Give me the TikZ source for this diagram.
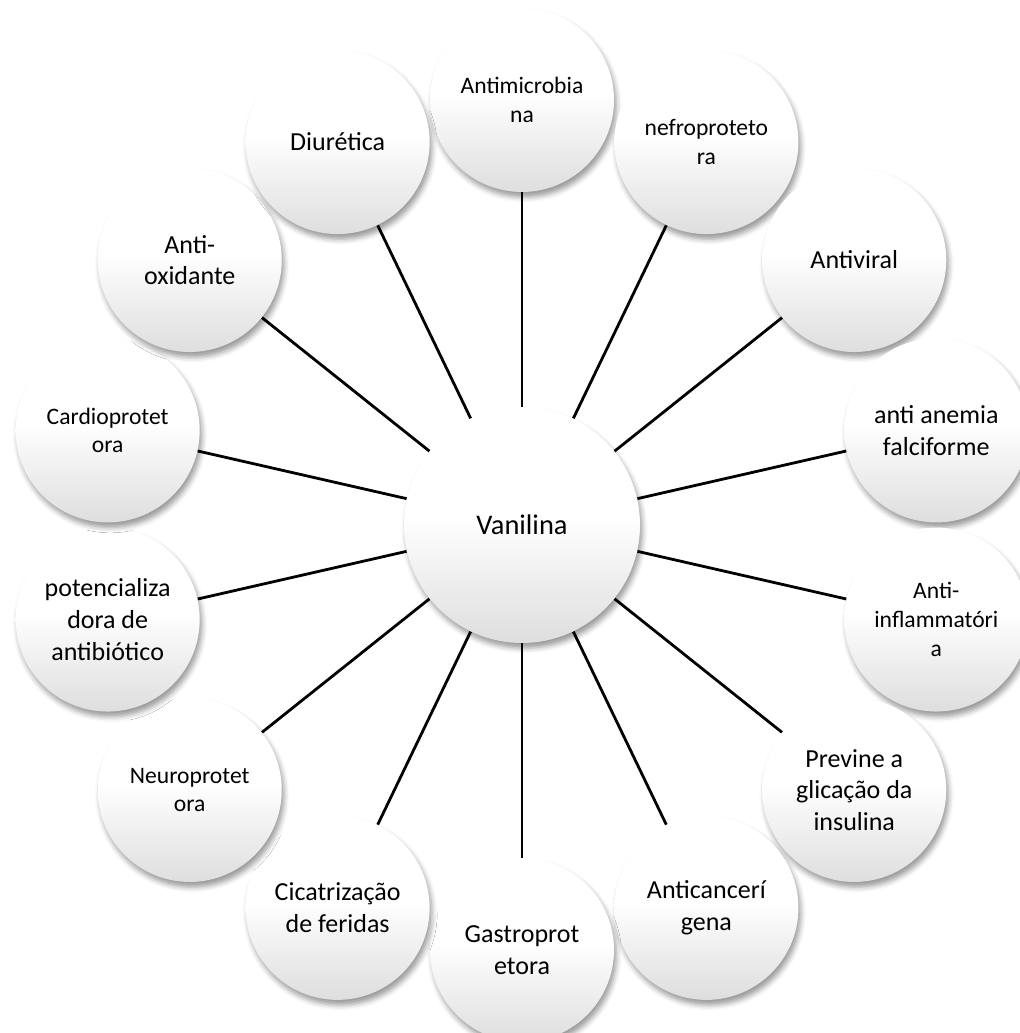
\documentclass[tikz,border=0pt]{standalone}
\usepackage{fontspec}
\setmainfont{Carlito}
\usetikzlibrary{shadows.blur}
\pgfdeclareverticalshading{bubshade}{100bp}{color(0bp)=(black!13); color(25bp)=(black!13); color(52bp)=(white); color(100bp)=(white)}
\begin{document}
\begin{tikzpicture}[x=0.5pt,y=0.5pt,
  bubble/.style={circle, inner sep=0pt, align=center,
    shading=bubshade,
    blur shadow={shadow xshift=1.2pt, shadow yshift=-2.6pt, shadow blur radius=2.6pt, shadow opacity=40}},
  outerbub/.style={bubble, minimum size=92pt},
  smalltxt/.style={font=\fontsize{11.8}{14.4}\selectfont},
  normtxt/.style={font=\fontsize{13}{15.8}\selectfont},
  hub/.style={bubble, minimum size=118pt, font=\fontsize{14.2}{17}\selectfont},
  link/.style={line width=1.4pt, black}]
\useasboundingbox (0,0) rectangle (1019,1033);
\node[hub] (hub) at (522,508) {Vanilina};
\foreach \i/\txt/\st in {
  0/{Antimicrobia\\na}/smalltxt,
  1/{nefroproteto\\ra}/smalltxt,
  2/{Antiviral}/normtxt,
  3/{anti anemia\\falciforme}/normtxt,
  4/{Anti-\\inflammatóri\\a}/smalltxt,
  5/{Previne a\\glicação da\\insulina}/normtxt,
  6/{Anticancerí\\gena}/normtxt,
  7/{Gastroprot\\etora}/normtxt,
  8/{Cicatrização\\de feridas}/normtxt,
  9/{Neuroprotet\\ora}/smalltxt,
  10/{potencializa\\dora de\\antibiótico}/normtxt,
  11/{Cardioprotet\\ora}/smalltxt,
  12/{Anti-\\oxidante}/normtxt,
  13/{Diurética}/normtxt}
{
  \node[outerbub,\st] (n\i) at ({522+425*cos(90-\i*360/14)},{508+425*sin(90-\i*360/14)}) {\txt};
}
\foreach \i in {0,...,13}
  \draw[link] (hub) -- (n\i);
\end{tikzpicture}
\end{document}
